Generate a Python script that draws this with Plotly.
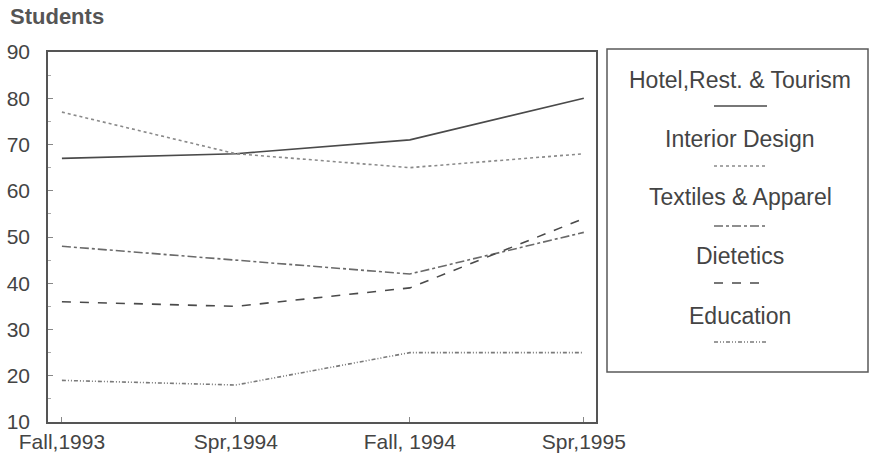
import plotly.graph_objects as go

terms = ["Fall,1993", "Spr,1994", "Fall, 1994", "Spr,1995"]
hotel = [67, 68, 71, 80]
interior = [77, 68, 65, 68]
textiles = [48, 45, 42, 51]
dietetics = [36, 35, 39, 54]
education = [19, 18, 25, 25]

series = [
    ("Hotel,Rest. & Tourism", hotel, "solid", "#4a4a4a", 1.6),
    ("Interior Design", interior, "dot", "#8a8a8a", 1.6),
    ("Textiles & Apparel", textiles, "dashdot", "#6a6a6a", 1.6),
    ("Dietetics", dietetics, "dash", "#4a4a4a", 1.6),
    ("Education", education, "4px,2px,1px,2px,1px,2px", "#7a7a7a", 1.6),
]

W, H = 870, 457
L, R, T, B = 48, 596, 52, 422
FONT = "Liberation Sans, Arial, sans-serif"
TXT = "#444444"

fig = go.Figure()
for name, vals, dash, col, w in series:
    fig.add_trace(go.Scatter(x=list(range(len(terms))), y=vals, mode="lines", name=name,
                             line=dict(color=col, width=w, dash=dash), showlegend=False))

def px(x):
    return (x - L) / (R - L)

def py(y):
    return (B - y) / (B - T)

shapes = []
annotations = []
# legend box
shapes.append(dict(type="rect", xref="paper", yref="paper", x0=px(607), x1=px(868), y0=py(372), y1=py(49),
                   line=dict(color="#5a5a5a", width=1.5), fillcolor="white", layer="below"))
text_y = [80, 139, 197, 256, 316]
line_y = [106, 166, 226, 283, 342]
for (name, vals, dash, col, w), ty, ly in zip(series, text_y, line_y):
    annotations.append(dict(xref="paper", yref="paper", x=px(740), y=py(ty), text=name, showarrow=False,
                            xanchor="center", yanchor="middle", font=dict(family=FONT, size=23, color=TXT)))
    shapes.append(dict(type="line", xref="paper", yref="paper", x0=px(714), x1=px(767), y0=py(ly), y1=py(ly),
                       line=dict(color=col, width=w, dash=dash)))

annotations.append(dict(xref="paper", yref="paper", x=px(8), y=py(16), text="<b>Students</b>", showarrow=False,
                        xanchor="left", yanchor="middle", font=dict(family=FONT, size=22, color="#555555")))

fig.update_layout(
    width=W, height=H,
    margin=dict(l=L, r=W - R, t=T, b=H - B),
    paper_bgcolor="white", plot_bgcolor="white",
    shapes=shapes, annotations=annotations,
    xaxis=dict(range=[-0.08, 3.07], tickmode="array", tickvals=list(range(len(terms))), ticktext=terms,
               showgrid=False, zeroline=False, showline=True, mirror=True, linecolor="#555555", linewidth=1.5,
               ticks="inside", ticklen=5, tickcolor="#888888", automargin=False,
               tickfont=dict(family=FONT, size=21, color=TXT)),
    yaxis=dict(range=[10, 90], dtick=10, showgrid=False, zeroline=False, showline=True, mirror=True,
               linecolor="#555555", linewidth=1.5, ticks="inside", ticklen=5, tickcolor="#888888",
               minor=dict(dtick=5, ticks="inside", ticklen=3, tickcolor="#aaaaaa"),
               ticklabelstandoff=12, automargin=False,
               tickfont=dict(family=FONT, size=21, color=TXT)),
)

fig.write_html("out.html", config={"displayModeBar": False},
               post_script="document.body.style.margin='0';document.body.style.padding='0';document.body.style.overflow='hidden';")
